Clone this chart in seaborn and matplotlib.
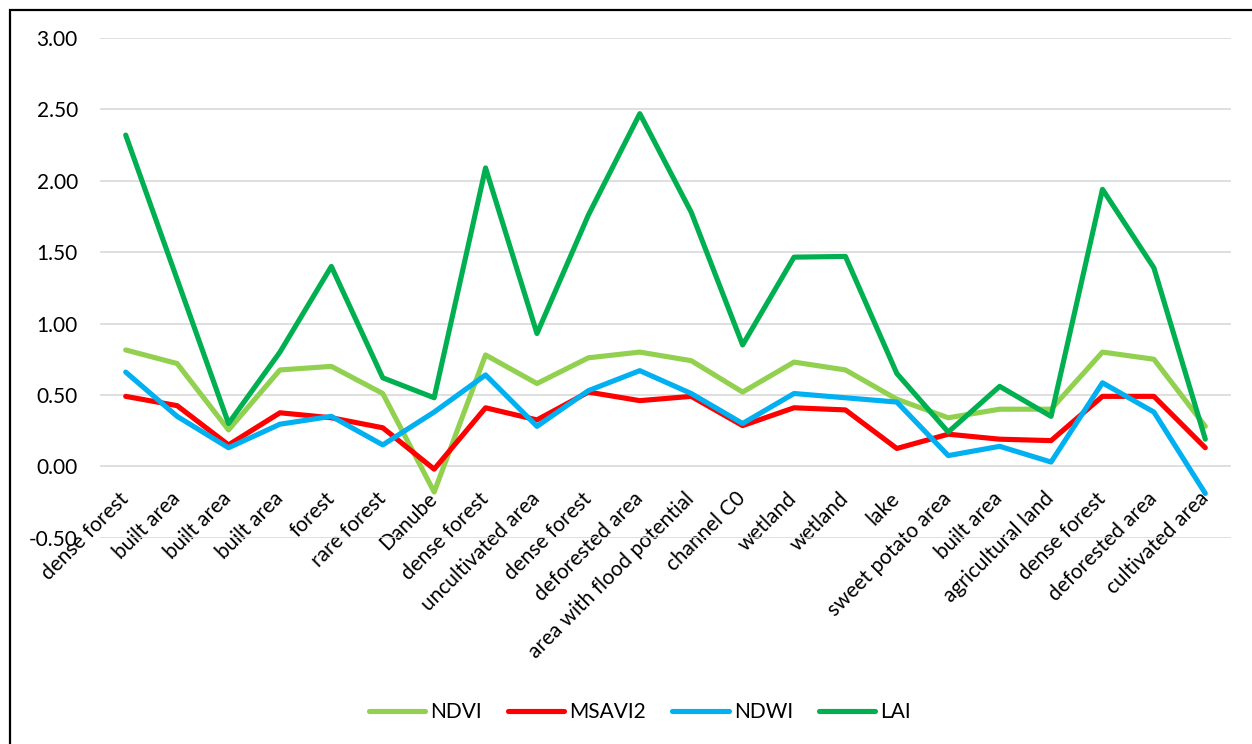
import matplotlib
matplotlib.use("Agg")
import matplotlib.pyplot as plt
from matplotlib.patches import Rectangle
from matplotlib.ticker import FormatStrFormatter
import seaborn as sns
import pandas as pd

# Land-cover classes along the profile
categories = [
    "dense forest", "built area", "built area", "built area", "forest",
    "rare forest", "Danube", "dense forest", "uncultivated area",
    "dense forest", "deforested area", "area with flood potential",
    "channel C0", "wetland", "wetland", "lake", "sweet potato area",
    "built area", "agricultural land", "dense forest", "deforested area",
    "cultivated area",
]

ndvi = [0.815, 0.72, 0.255, 0.675, 0.70, 0.51, -0.18, 0.78, 0.58, 0.76, 0.80,
        0.74, 0.52, 0.73, 0.675, 0.47, 0.34, 0.40, 0.40, 0.80, 0.75, 0.28]
msavi2 = [0.49, 0.425, 0.15, 0.375, 0.34, 0.27, -0.02, 0.41, 0.325, 0.52, 0.46,
          0.49, 0.285, 0.41, 0.395, 0.125, 0.225, 0.19, 0.18, 0.49, 0.49, 0.13]
ndwi = [0.66, 0.35, 0.13, 0.295, 0.35, 0.15, 0.38, 0.64, 0.28, 0.53, 0.67,
        0.51, 0.30, 0.51, 0.48, 0.45, 0.075, 0.14, 0.03, 0.585, 0.38, -0.19]
lai = [2.32, 1.31, 0.30, 0.80, 1.40, 0.62, 0.48, 2.09, 0.93, 1.76, 2.47,
       1.78, 0.85, 1.465, 1.47, 0.65, 0.24, 0.56, 0.35, 1.94, 1.39, 0.19]

series_names = ["NDVI", "MSAVI2", "NDWI", "LAI"]
series_values = [ndvi, msavi2, ndwi, lai]
colors = ["#92D050", "#FF0000", "#00B0F0", "#00B050"]

y_ticks = [-0.5, 0.0, 0.5, 1.0, 1.5, 2.0, 2.5, 3.0]

rows = []
for name, vals in zip(series_names, series_values):
    for i, v in enumerate(vals):
        rows.append({"pos": i, "value": v, "index": name})
df = pd.DataFrame(rows)

sns.set_theme(style="white")
plt.rcParams["font.family"] = ["Lato", "DejaVu Sans"]

W, H = 1252, 744
fig = plt.figure(figsize=(W / 100, H / 100), dpi=100)
ax = fig.add_axes([100 / W, 1 - 537.7 / H, (1231 - 100) / W, (537.7 - 38) / H])

sns.lineplot(data=df, x="pos", y="value", hue="index", hue_order=series_names,
             palette=colors, linewidth=3.7, sort=False, ax=ax,
             solid_capstyle="round", solid_joinstyle="round", legend=False)

ax.set_xlim(-0.5, len(categories) - 0.5)
ax.set_ylim(-0.5, 3.0)
ax.set_yticks(y_ticks)
ax.yaxis.set_major_formatter(FormatStrFormatter("%.2f"))
ax.grid(axis="y", color="#D9D9D9", linewidth=1.2)
ax.grid(axis="x", visible=False)
ax.set_axisbelow(True)
ax.set_xlabel("")
ax.set_ylabel("")

for side in ["left", "right", "top", "bottom"]:
    ax.spines[side].set_visible(False)
# category labels hang from the zero line
ax.spines["bottom"].set_position(("data", 0))

ax.set_xticks(range(len(categories)))
ax.set_xticklabels(categories, rotation=45, ha="right", va="center",
                   rotation_mode="anchor", fontsize=15, color="black")
ax.tick_params(axis="x", length=0, pad=21)
ax.tick_params(axis="y", length=0, pad=16, labelsize=15, labelcolor="black")

handles = [plt.Line2D([], [], color=c, linewidth=3.7, solid_capstyle="round")
           for c in colors]
fig.legend(handles, series_names, loc="center", bbox_to_anchor=(640 / W, 1 - 712 / H),
           ncol=4, frameon=False, fontsize=15, handlelength=2.7,
           handletextpad=0.25, columnspacing=1.25, labelcolor="black")

fig.patches.append(Rectangle((10 / W, -0.1), 1.2, 1.1 - 10 / H, transform=fig.transFigure,
                             fill=False, edgecolor="black", linewidth=1.6))

fig.savefig("out.png", dpi=100, facecolor="white")
